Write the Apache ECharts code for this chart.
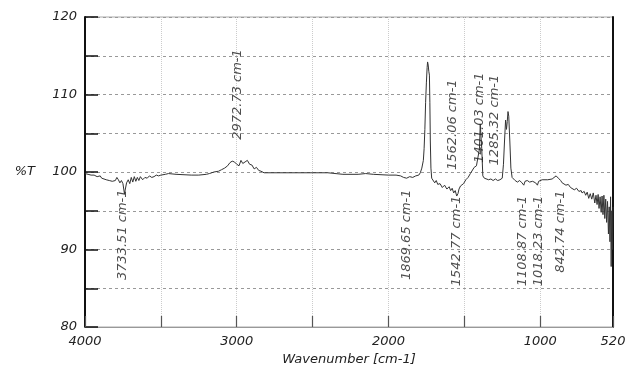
<!DOCTYPE html>
<html>
<head>
<meta charset="utf-8">
<script src="https://cdn.jsdelivr.net/npm/echarts@6/dist/echarts.min.js"></script>
<style>
  html, body { margin: 0; padding: 0; background: #fff; }
  #chart { width: 630px; height: 372px; }
</style>
</head>
<body>
<div id="chart"></div>
<script>
// spectrum (wavenumber, %T)
const wavenumbers = [
  4000, 3980, 3960, 3940, 3920, 3900, 3890, 3880, 3860, 3850, 3840, 3830, 3820, 3810, 3800,
  3790, 3780, 3770, 3760, 3750, 3740, 3733, 3726, 3715, 3705, 3695, 3685, 3675, 3665, 3655,
  3645, 3635, 3620, 3605, 3590, 3575, 3560, 3545, 3530, 3515, 3500, 3490, 3470, 3450, 3400,
  3300, 3250, 3200, 3180, 3150, 3120, 3100, 3080, 3060, 3045, 3030, 3015, 3000, 2985, 2972,
  2960, 2945, 2930, 2915, 2900, 2885, 2870, 2855, 2840, 2820, 2800, 2600, 2400, 2300, 2200,
  2150, 2100, 2000, 1950, 1920, 1900, 1880, 1860, 1840, 1820, 1800, 1790, 1780, 1770, 1765,
  1760, 1755, 1750, 1745, 1742, 1738, 1734, 1730, 1727, 1724, 1720, 1715, 1705, 1695, 1685,
  1675, 1660, 1645, 1630, 1615, 1600, 1590, 1580, 1570, 1560, 1550, 1542, 1535, 1525, 1520,
  1505, 1490, 1475, 1460, 1447, 1435, 1420, 1410, 1400, 1395, 1390, 1385, 1378, 1368, 1355,
  1340, 1325, 1310, 1295, 1280, 1265, 1250, 1242, 1235, 1228, 1222, 1217, 1212, 1207, 1200,
  1193, 1185, 1175, 1165, 1150, 1135, 1120, 1108, 1100, 1085, 1070, 1050, 1030, 1018, 1010,
  987, 950, 921, 895, 880, 865, 855, 842, 830, 815, 800, 789, 775, 760, 745,
  730, 724, 710, 700, 690, 680, 670, 660, 650, 640, 632, 625, 618, 612, 605,
  598, 592, 586, 580, 574, 568, 562, 556, 550, 545, 540, 536, 532, 528, 524, 520
];
const transmittance = [
  99.8, 99.7, 99.6, 99.6, 99.4, 99.5, 99.2, 99.3, 99.0, 99.2, 98.9, 99.1, 98.8, 99.0, 98.9,
  99.3, 99.0, 98.6, 98.9, 98.5, 97.2, 97.0, 98.6, 99.0, 98.5, 99.3, 98.7, 99.4, 98.8, 99.3,
  98.9, 99.4, 99.0, 99.3, 99.2, 99.5, 99.3, 99.4, 99.6, 99.5, 99.6, 99.8, 99.7, 99.8, 99.7,
  99.6, 99.6, 99.7, 99.8, 100.0, 100.1, 100.3, 100.5, 100.8, 101.2, 101.4, 101.3, 101.0, 100.8, 101.5,
  101.1, 101.3, 101.5, 101.0, 100.9, 100.4, 100.6, 100.2, 100.1, 99.9, 99.9, 99.9, 99.9, 99.7, 99.7,
  99.8, 99.7, 99.6, 99.6, 99.5, 99.3, 99.2, 99.4, 99.3, 99.5, 99.6, 99.9, 100.5, 101.5, 103.0,
  105.5, 109.0, 111.5, 113.5, 114.2, 113.8, 113.0, 112.5, 109.0, 104.0, 100.5, 99.2, 99.0, 98.6, 98.9,
  98.4, 98.5, 98.0, 98.3, 97.8, 98.1, 97.6, 97.9, 97.3, 97.6, 96.9, 97.2, 97.8, 98.2, 98.0,
  98.5, 99.0, 99.3, 99.8, 100.0, 100.6, 100.8, 101.0, 103.0, 106.2, 106.0, 103.0, 99.5, 99.2, 99.3,
  99.0, 99.1, 98.9, 99.1, 98.9, 99.0, 99.2, 101.0, 104.0, 106.7, 105.5, 106.5, 107.8, 107.2, 104.0,
  100.5, 99.3, 99.1, 98.9, 98.7, 98.9, 98.6, 98.3, 98.8, 98.9, 98.7, 98.8, 98.6, 98.3, 98.8,
  99.0, 99.0, 99.1, 99.5, 99.2, 98.9, 98.6, 98.7, 98.3, 98.4, 98.0, 98.1, 97.7, 97.9, 97.5,
  97.6, 97.3, 97.5, 97.0, 97.4, 96.6, 97.2, 96.5, 97.3, 96.0, 97.0, 95.8, 97.1, 95.3, 96.8,
  94.8, 96.9, 94.5, 97.0, 94.0, 96.5, 93.5, 96.2, 92.0, 95.5, 91.0, 96.8, 87.8, 95.0, 90.0, 95.5
];

// peak annotations: text, where the text sits (wavenumber, %T at its middle)
const peakTexts = [
  "3733.51 cm-1", "2972.73 cm-1", "1869.65 cm-1", "1562.06 cm-1", "1542.77 cm-1",
  "1401.03 cm-1", "1285.32 cm-1", "1108.87 cm-1", "1018.23 cm-1", "842.74 cm-1"
];
const peakX = [3750, 2993, 1882, 1579, 1553, 1401, 1303, 1118, 1007, 862];
const peakY = [91.9, 110.0, 91.9, 106.1, 91.1, 107.0, 106.7, 91.1, 91.1, 92.3];

const xTicks = [4000, 3500, 3000, 2500, 2000, 1500, 1000, 520];
const xLabels = [4000, 3000, 2000, 1000, 520];

const font = "DejaVu Sans";
const chart = echarts.init(document.getElementById("chart"));

chart.setOption({
  animation: false,
  backgroundColor: "#fff",
  grid: {
    left: 85,
    right: 17,
    top: 17,
    bottom: 45,
    show: true,
    borderColor: "#aaa",
    borderWidth: 1
  },
  xAxis: {
    type: "value",
    min: 520,
    max: 4000,
    inverse: true,
    name: "Wavenumber [cm-1]",
    nameLocation: "middle",
    nameGap: 26,
    nameTextStyle: { fontFamily: font, fontStyle: "italic", fontSize: 13, color: "#222" },
    axisLine: { lineStyle: { color: "#999", width: 1 } },
    axisTick: {
      inside: true,
      length: 11,
      customValues: xTicks,
      lineStyle: { color: "#555", width: 1.2 }
    },
    axisLabel: {
      customValues: xLabels,
      margin: 8,
      fontFamily: font,
      fontStyle: "italic",
      fontSize: 13,
      color: "#222",
      formatter: v => String(v)
    },
    splitLine: { show: true, lineStyle: { color: "#ccc", type: "dotted", width: 1 } }
  },
  yAxis: [
    {
      type: "value",
      min: 80,
      max: 120,
      interval: 5,
      name: "%T",
      nameLocation: "middle",
      nameRotate: 0,
      nameGap: 50,
      nameTextStyle: { fontFamily: font, fontStyle: "italic", fontSize: 13, color: "#222" },
      axisLine: { show: true, lineStyle: { color: "#111", width: 2 } },
      axisTick: { show: true, inside: true, length: 13, lineStyle: { color: "#111", width: 1.5 } },
      axisLabel: {
        margin: 8,
        fontFamily: font,
        fontStyle: "italic",
        fontSize: 13,
        color: "#222",
        formatter: v => (v % 10 === 0 ? String(v) : "")
      },
      splitLine: { show: true, lineStyle: { color: "#999", type: [3, 3], width: 1 } }
    },
    {
      type: "value",
      min: 80,
      max: 120,
      position: "right",
      axisLine: { show: true, lineStyle: { color: "#111", width: 2 } },
      axisTick: { show: false },
      axisLabel: { show: false },
      splitLine: { show: false }
    }
  ],
  series: [
    {
      type: "line",
      data: wavenumbers.map((w, i) => [w, transmittance[i]]),
      showSymbol: false,
      lineStyle: { color: "#333", width: 1 },
      z: 3
    },
    {
      type: "scatter",
      data: peakX.map((x, i) => [x, peakY[i]]),
      symbolSize: 1,
      itemStyle: { color: "rgba(0,0,0,0)" },
      label: {
        show: true,
        position: "inside",
        rotate: 90,
        align: "center",
        verticalAlign: "middle",
        formatter: p => peakTexts[p.dataIndex],
        fontFamily: font,
        fontStyle: "italic",
        fontSize: 13,
        color: "#222"
      },
      z: 4
    }
  ]
});
</script>
</body>
</html>
